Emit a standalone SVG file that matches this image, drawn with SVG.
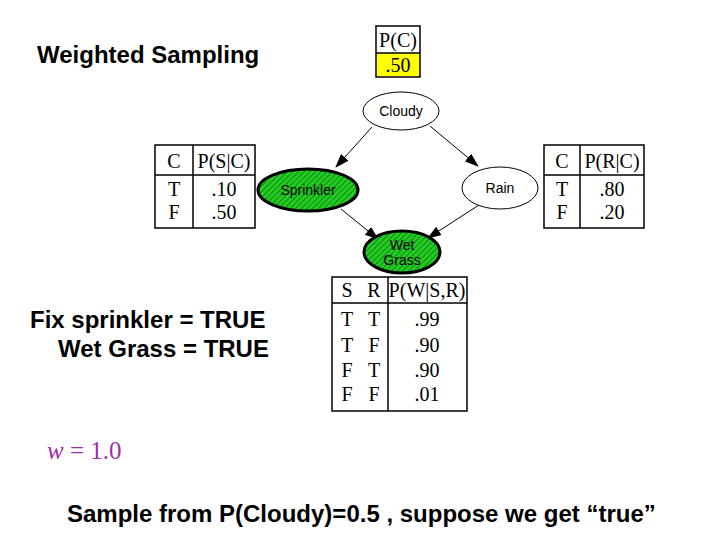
<svg xmlns="http://www.w3.org/2000/svg" width="720" height="540" viewBox="0 0 720 540">
<style>
.title{font-family:"Liberation Sans",Arial,sans-serif;font-weight:bold;font-size:24px;fill:#000}
.tbl{fill:#fff;stroke:#000;stroke-width:1.5}
.ln{stroke:#000;stroke-width:1.5}
.tt{font-family:"Liberation Serif","Times New Roman",serif;font-size:20px;fill:#000}
.node{font-family:"Liberation Sans",Arial,sans-serif;font-size:14px;fill:#000}
.plain{fill:#fff;stroke:#000;stroke-width:1}
.ev{fill:url(#hatch);stroke:#000;stroke-width:3}
.edge{stroke:#000;stroke-width:1;fill:none;marker-end:url(#arr)}
</style>
<defs>
<pattern id="hatch" patternUnits="userSpaceOnUse" width="4" height="4" patternTransform="rotate(45)">
<rect width="4" height="4" fill="#22cc22"/>
<line x1="0" y1="0" x2="0" y2="4" stroke="#0a5a0a" stroke-width="1.2"/>
</pattern>
<marker id="arr" markerWidth="14" markerHeight="10" refX="13" refY="5" orient="auto" markerUnits="userSpaceOnUse">
<path d="M0,0 L14,5 L0,10 z" fill="#000"/>
</marker>
</defs>
<rect width="720" height="540" fill="#fff"/>
<text class="title" x="37" y="63">Weighted Sampling</text>

<g id="connectors">
<line class="edge" x1="372" y1="127" x2="336" y2="167"/>
<line class="edge" x1="430" y1="126" x2="478" y2="166"/>
<line class="edge" x1="341" y1="209" x2="378" y2="239"/>
<line class="edge" x1="479" y1="205" x2="428" y2="238"/>
</g>

<g id="pc-table">
<rect class="tbl" x="376" y="26" width="44" height="51"/>
<rect x="377" y="53" width="42" height="23" fill="#ffff00"/>
<line class="ln" x1="376" y1="53" x2="420" y2="53"/>
<text class="tt" x="398" y="47" text-anchor="middle" font-size="21">P(C)</text>
<text class="tt" x="398" y="72" text-anchor="middle" font-size="21">.50</text>
</g>

<g id="cloudy">
<ellipse class="plain" cx="401" cy="111" rx="38" ry="19"/>
<text class="node" x="401" y="116" text-anchor="middle">Cloudy</text>
</g>

<g id="ps-table">
<rect class="tbl" x="155" y="145" width="100" height="83"/>
<line class="ln" x1="155" y1="175" x2="255" y2="175"/>
<line class="ln" x1="193" y1="145" x2="193" y2="228"/>
<text class="tt" x="174" y="168" text-anchor="middle">C</text>
<text class="tt" x="224" y="168" text-anchor="middle">P(S|C)</text>
<text class="tt" x="174" y="196" text-anchor="middle">T</text>
<text class="tt" x="224" y="196" text-anchor="middle">.10</text>
<text class="tt" x="174" y="219" text-anchor="middle">F</text>
<text class="tt" x="224" y="219" text-anchor="middle">.50</text>
</g>

<g id="sprinkler">
<ellipse class="ev" cx="308" cy="190" rx="50" ry="21"/>
<text class="node" x="308" y="195" text-anchor="middle" fill="#0a3a0a">Sprinkler</text>
</g>

<g id="rain">
<ellipse class="plain" cx="500" cy="188" rx="38" ry="21"/>
<text class="node" x="500" y="193" text-anchor="middle">Rain</text>
</g>

<g id="pr-table">
<rect class="tbl" x="544" y="145" width="100" height="83"/>
<line class="ln" x1="544" y1="175" x2="644" y2="175"/>
<line class="ln" x1="580" y1="145" x2="580" y2="228"/>
<text class="tt" x="562" y="168" text-anchor="middle">C</text>
<text class="tt" x="612" y="168" text-anchor="middle">P(R|C)</text>
<text class="tt" x="562" y="196" text-anchor="middle">T</text>
<text class="tt" x="612" y="196" text-anchor="middle">.80</text>
<text class="tt" x="562" y="219" text-anchor="middle">F</text>
<text class="tt" x="612" y="219" text-anchor="middle">.20</text>
</g>

<g id="wetgrass">
<ellipse class="ev" cx="402" cy="252" rx="38" ry="21"/>
<text class="node" x="402" y="250" text-anchor="middle" font-size="12" fill="#0a3a0a">Wet</text>
<text class="node" x="402" y="265" text-anchor="middle" font-size="12" fill="#0a3a0a">Grass</text>
</g>

<g id="pw-table">
<rect class="tbl" x="332" y="277" width="135" height="134"/>
<line class="ln" x1="332" y1="303" x2="467" y2="303"/>
<line class="ln" x1="388" y1="277" x2="388" y2="411"/>
<text class="tt" x="347" y="297" text-anchor="middle">S</text>
<text class="tt" x="374" y="297" text-anchor="middle">R</text>
<text class="tt" x="427" y="297" text-anchor="middle">P(W|S,R)</text>
<text class="tt" x="347" y="326" text-anchor="middle">T</text>
<text class="tt" x="374" y="326" text-anchor="middle">T</text>
<text class="tt" x="427" y="326" text-anchor="middle">.99</text>
<text class="tt" x="347" y="352" text-anchor="middle">T</text>
<text class="tt" x="374" y="352" text-anchor="middle">F</text>
<text class="tt" x="427" y="352" text-anchor="middle">.90</text>
<text class="tt" x="347" y="377" text-anchor="middle">F</text>
<text class="tt" x="374" y="377" text-anchor="middle">T</text>
<text class="tt" x="427" y="377" text-anchor="middle">.90</text>
<text class="tt" x="347" y="401" text-anchor="middle">F</text>
<text class="tt" x="374" y="401" text-anchor="middle">F</text>
<text class="tt" x="427" y="401" text-anchor="middle">.01</text>
</g>

<text class="title" x="30" y="328" font-size="23.3">Fix sprinkler = TRUE</text>
<text class="title" x="58" y="357">Wet Grass = TRUE</text>
<text x="47" y="459" font-family="Liberation Serif,serif" font-size="25" fill="#9b30a8"><tspan font-style="italic">w</tspan> = 1.0</text>
<text class="title" x="67" y="522">Sample from P(Cloudy)=0.5 , suppose we get “true”</text>
</svg>
